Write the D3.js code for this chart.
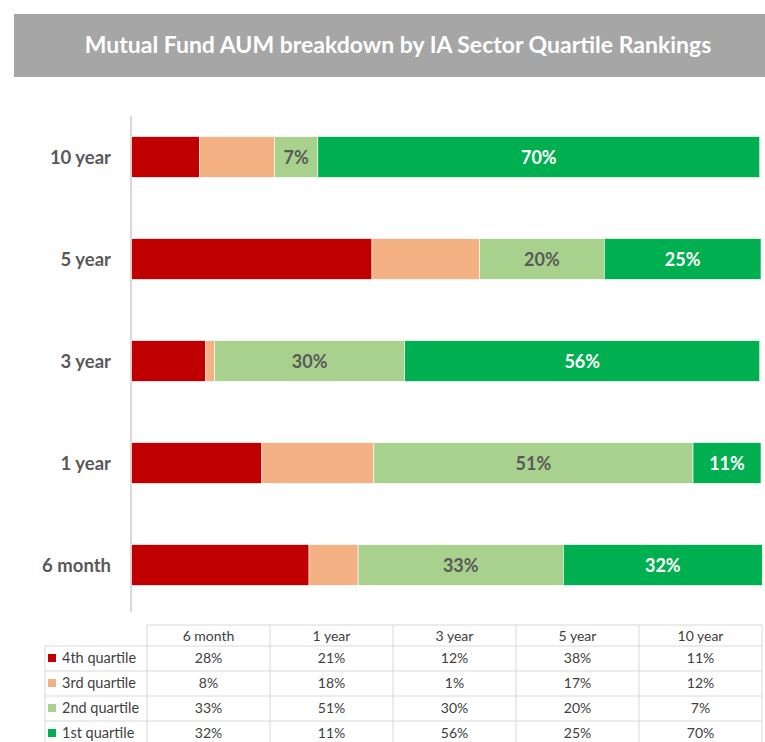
<!DOCTYPE html>
<html><head><meta charset="utf-8">
<script src="https://cdn.jsdelivr.net/npm/d3@7"></script>
<style>body{margin:0;background:#fff}svg{display:block}</style>
</head><body>
<svg id="c" width="765" height="742"></svg>
<script>
const title = "Mutual Fund AUM breakdown by IA Sector Quartile Rankings";
const categories = ["6 month", "1 year", "3 year", "5 year", "10 year"];
const seriesNames = ["4th quartile", "3rd quartile", "2nd quartile", "1st quartile"];
const q4 = [28.2, 20.7, 11.8, 38.2, 10.8];
const q3 = [7.8, 17.8, 1.4, 17.1, 11.9];
const q2 = [32.6, 50.7, 30.2, 19.8, 6.9];
const q1 = [31.6, 10.8, 56.4, 24.9, 70.2];
const colors = ["#c00000", "#f4b183", "#a9d18e", "#00b050"];
const labelShown = [false, false, true, true];
const labelColors = ["#fff", "#fff", "#595959", "#fff"];

const svg = d3.select("#c");
const font = "Lato, 'Open Sans', sans-serif";

// title banner
svg.append("rect").attr("x", 14).attr("y", 14).attr("width", 760).attr("height", 63).attr("fill", "#a6a6a6");
svg.append("text").attr("x", 398).attr("y", 53).attr("text-anchor", "middle")
  .attr("font-family", font).attr("font-weight", "bold").attr("font-size", 23).attr("fill", "#fff").text(title);

const seriesVals = [q4, q3, q2, q1];
const rows = categories.map((c, i) => {
  const o = {cat: c};
  seriesNames.forEach((s, j) => o[s] = seriesVals[j][i]);
  return o;
});
const stack = d3.stack().keys(seriesNames)(rows);

const x = d3.scaleLinear().domain([0, 100]).range([131.5, 761]);
const y = d3.scaleBand().domain(categories.slice().reverse()).range([106, 616]).paddingInner(0.6).paddingOuter(0.3);

// axis line
svg.append("line").attr("x1", 131).attr("x2", 131).attr("y1", 116).attr("y2", 612)
  .attr("stroke", "#d9d9d9").attr("stroke-width", 2);

stack.forEach((layer, j) => {
  const g = svg.append("g");
  g.selectAll("rect").data(layer).join("rect")
    .attr("x", d => x(d[0])).attr("width", d => x(d[1]) - x(d[0]))
    .attr("y", d => y(d.data.cat)).attr("height", y.bandwidth())
    .attr("fill", colors[j]).attr("stroke", "#fff").attr("stroke-width", 0.6);
  if (labelShown[j]) {
    g.selectAll("text").data(layer).join("text")
      .attr("x", d => (x(d[0]) + x(d[1])) / 2)
      .attr("y", d => y(d.data.cat) + y.bandwidth() / 2 + 6.5)
      .attr("text-anchor", "middle").attr("font-family", font).attr("font-weight", "bold")
      .attr("font-size", 18).attr("fill", labelColors[j])
      .text(d => Math.round(d[1] - d[0]) + "%");
  }
});

// category labels
svg.append("g").selectAll("text").data(categories).join("text")
  .attr("x", 111).attr("y", d => y(d) + y.bandwidth() / 2 + 6.5)
  .attr("text-anchor", "end").attr("font-family", font).attr("font-weight", "bold")
  .attr("font-size", 18.5).attr("fill", "#595959").text(d => d);

// data table
const tx = d3.scaleBand().domain(categories).range([147, 762]);
const rowH = 25;
const headTop = 625, headBot = 646;
const tg = svg.append("g").attr("font-family", font).attr("fill", "#404040");
const lineC = "#d9d9d9";
// header
tg.append("line").attr("x1", 147).attr("x2", 762).attr("y1", headTop).attr("y2", headTop).attr("stroke", lineC);
tg.selectAll(".hv").data(categories.concat(["_end"])).join("line")
  .attr("x1", (d, i) => i < categories.length ? tx(d) : 762).attr("x2", (d, i) => i < categories.length ? tx(d) : 762)
  .attr("y1", headTop).attr("y2", 742).attr("stroke", lineC);
tg.selectAll(".ht").data(categories).join("text")
  .attr("x", d => tx(d) + tx.bandwidth() / 2).attr("y", 641).attr("text-anchor", "middle")
  .attr("font-size", 14).attr("fill", "#404040").text(d => d);
// rows
seriesNames.forEach((s, j) => {
  const top = headBot + j * rowH;
  tg.append("line").attr("x1", 45).attr("x2", 762).attr("y1", top).attr("y2", top).attr("stroke", lineC);
  tg.append("rect").attr("x", 48).attr("y", top + 8).attr("width", 8).attr("height", 8).attr("fill", colors[j]);
  tg.append("text").attr("x", 62).attr("y", top + 17).attr("font-size", 14.5).attr("fill", "#404040").text(s);
  tg.selectAll(".v" + j).data(seriesVals[j]).join("text")
    .attr("x", (d, i) => tx(categories[i]) + tx.bandwidth() / 2).attr("y", top + 17)
    .attr("text-anchor", "middle").attr("font-size", 14).attr("fill", "#404040")
    .text(d => Math.round(d) + "%");
});
tg.append("line").attr("x1", 45).attr("x2", 762).attr("y1", headBot + 4 * rowH).attr("y2", headBot + 4 * rowH).attr("stroke", lineC);
tg.append("line").attr("x1", 45).attr("x2", 45).attr("y1", headBot).attr("y2", 742).attr("stroke", lineC);
</script>
</body></html>
